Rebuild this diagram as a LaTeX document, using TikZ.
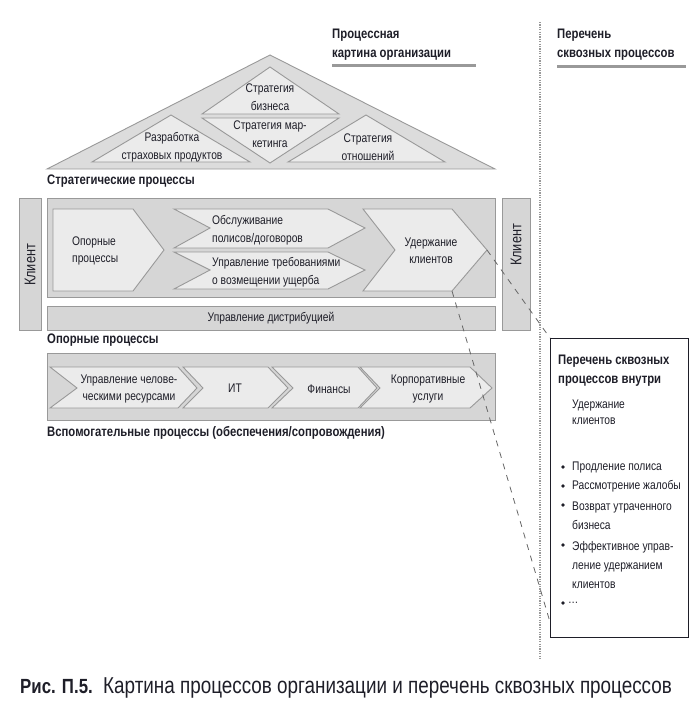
\documentclass[tikz,border=0pt]{standalone}
\usepackage{fontspec}
\setmainfont{Liberation Sans}[FakeStretch=0.82]
\usepackage{tikz}
\usetikzlibrary{positioning}
\definecolor{fillmid}{HTML}{D6D6D6}
\definecolor{filllight}{HTML}{EBEBEB}
\definecolor{edgegray}{HTML}{999999}
\definecolor{inkdark}{HTML}{1E1E28}
\tikzstyle{region} = [draw=edgegray, fill=fillmid, line width=0.9pt]
\tikzstyle{arrowshape} = [draw=edgegray, fill=filllight, line width=0.9pt]
\tikzstyle{label} = [inner sep=0pt, font=\fontsize{12.5}{17.5}\selectfont, text=inkdark]
\tikzstyle{sidelabel} = [label, rotate=90, font=\fontsize{15.5}{18}\selectfont]
\tikzstyle{listitem} = [label, anchor=north west, align=left, font=\fontsize{12.5}{19}\selectfont]
\tikzstyle{heading} = [inner sep=0pt, anchor=west, font=\fontsize{13.8}{18.5}\selectfont\bfseries, text=inkdark]
\tikzstyle{link} = [dashed, dash pattern=on 6pt off 6pt, draw=black!60, line width=0.8pt]

\begin{document}
\begin{tikzpicture}[x=1pt, y=-1pt]
\useasboundingbox (0,0) rectangle (696,707);
% headings
\node[heading, anchor=north west, align=left] (pictitle) at (332,29) {Процессная\\картина организации};
\draw[edgegray, line width=3pt] (332,65)--(476,65);
\node[heading, anchor=north west, align=left] (listtitle) at (557,29) {Перечень\\сквозных процессов};
\draw[edgegray, line width=3pt] (557,66)--(686,66);
\draw[edgegray, line width=2pt, dash pattern=on 1.2pt off 1.2pt] (540,22)--(540,660);

% strategic roof
\draw[region, fill=fillmid!85!white] (47,169)--(270,55)--(495,169)--cycle;
\draw[arrowshape] (202,114)--(270,67)--(339,114)--cycle;
\draw[arrowshape] (202,118)--(339,118)--(270,163)--cycle;
\draw[arrowshape] (92,162)--(171,115)--(250,162)--cycle;
\draw[arrowshape] (288,162)--(366,115)--(445,162)--cycle;
\node[label, align=center] (strbiz) at (270,97) {Стратегия\\бизнеса};
\node[label, align=center] (strmark) at (270,134) {Стратегия мар-\\кетинга};
\node[label, align=center] (strprod) at (172,147) {Разработка\\страховых продуктов};
\node[label, align=center] (strrel) at (368,147) {Стратегия\\отношений};
\node[heading] (strlabel) at (47,181) {Стратегические процессы};

% core processes
\draw[region] (19,198) rectangle (41,330);
\node[sidelabel] (clientl) at (30,265) {Клиент};
\draw[region] (47,198) rectangle (495,297);
\draw[region] (502,198) rectangle (530,330);
\node[sidelabel] (clientr) at (516,245) {Клиент};
\draw[region] (47,306) rectangle (495,330);
\node[label] (distrib) at (271,318) {Управление дистрибуцией};
\node[heading] (corelabel) at (47,340) {Опорные процессы};

\draw[arrowshape] (53,209)--(133,209)--(164,250)--(133,291)--(53,291)--cycle;
\node[label, align=left, anchor=west] (core) at (72,251) {Опорные\\процессы};
\draw[arrowshape] (174,209)--(328,209)--(365,228)--(328,248)--(174,248)--(210,228)--cycle;
\node[label, align=left, anchor=west] (service) at (212,230) {Обслуживание\\полисов/договоров};
\draw[arrowshape] (174,252)--(328,252)--(365,270)--(328,289)--(174,289)--(210,270)--cycle;
\node[label, align=left, anchor=west] (claims) at (212,272) {Управление требованиями\\о возмещении ущерба};
\draw[arrowshape] (363,209)--(452,209)--(487,250)--(452,291)--(363,291)--(395,250)--cycle;
\node[label, align=center] (retain) at (431,251) {Удержание\\клиентов};
\coordinate (retaintip) at (487,250);
\coordinate (retainbot) at (452,291);

% support processes
\draw[region] (47,353) rectangle (495,420);
\draw[arrowshape] (50,367)--(178,367)--(197,388)--(178,408)--(50,408)--(77,388)--cycle;
\node[label, align=center] (hr) at (129,389) {Управление челове-\\ческими ресурсами};
\draw[arrowshape] (183,367)--(268,367)--(288,388)--(268,408)--(183,408)--(203,388)--cycle;
\node[label] (it) at (235,388) {ИТ};
\draw[arrowshape] (272,367)--(358,367)--(377,388)--(358,408)--(272,408)--(293,388)--cycle;
\node[label] (finance) at (329,389) {Финансы};
\draw[arrowshape] (360,367)--(470,367)--(492,388)--(470,408)--(360,408)--(380,388)--cycle;
\node[label, align=center] (corpserv) at (428,389) {Корпоративные\\услуги};
\node[heading] (suplabel) at (47,433) {Вспомогательные процессы (обеспечения/сопровождения)};

% list of end-to-end processes
\node[draw=inkdark, fill=white, line width=1.1pt, minimum width=138pt, minimum height=299pt, anchor=north west, inner sep=0pt] (listbox) at (550,338) {};
\coordinate (listlow) at (550,622);
\draw[link] (retaintip)--(listbox.north west);
\draw[link] (retainbot)--(listlow);
\node[heading, anchor=north west, align=left] (listhead) at (558,355) {Перечень сквозных\\процессов внутри};
\node[listitem, font=\fontsize{12.5}{16}\selectfont] (listname) at (572,400) {Удержание\\клиентов};
\foreach \y in {467,486,505,545,603}
  \fill[inkdark] (563,\y) circle (1.8pt);
\node[label, anchor=west] (item1) at (572,467) {Продление полиса};
\node[label, anchor=west] (item2) at (572,486) {Рассмотрение жалобы};
\node[listitem] (item3) at (572,502) {Возврат утраченного\\бизнеса};
\node[listitem] (item4) at (572,541) {Эффективное управ-\\ление удержанием\\клиентов};
\node[label, anchor=west] (item5) at (568,603) {\dots};

% caption
\node[anchor=west, inner sep=0pt, font=\fontsize{23}{26}\selectfont, text=inkdark] (caption) at (20,688) {{\fontsize{20.5}{24}\selectfont\bfseries Рис. П.5.}\ \ Картина процессов организации и перечень сквозных процессов};
\end{tikzpicture}
\end{document}
